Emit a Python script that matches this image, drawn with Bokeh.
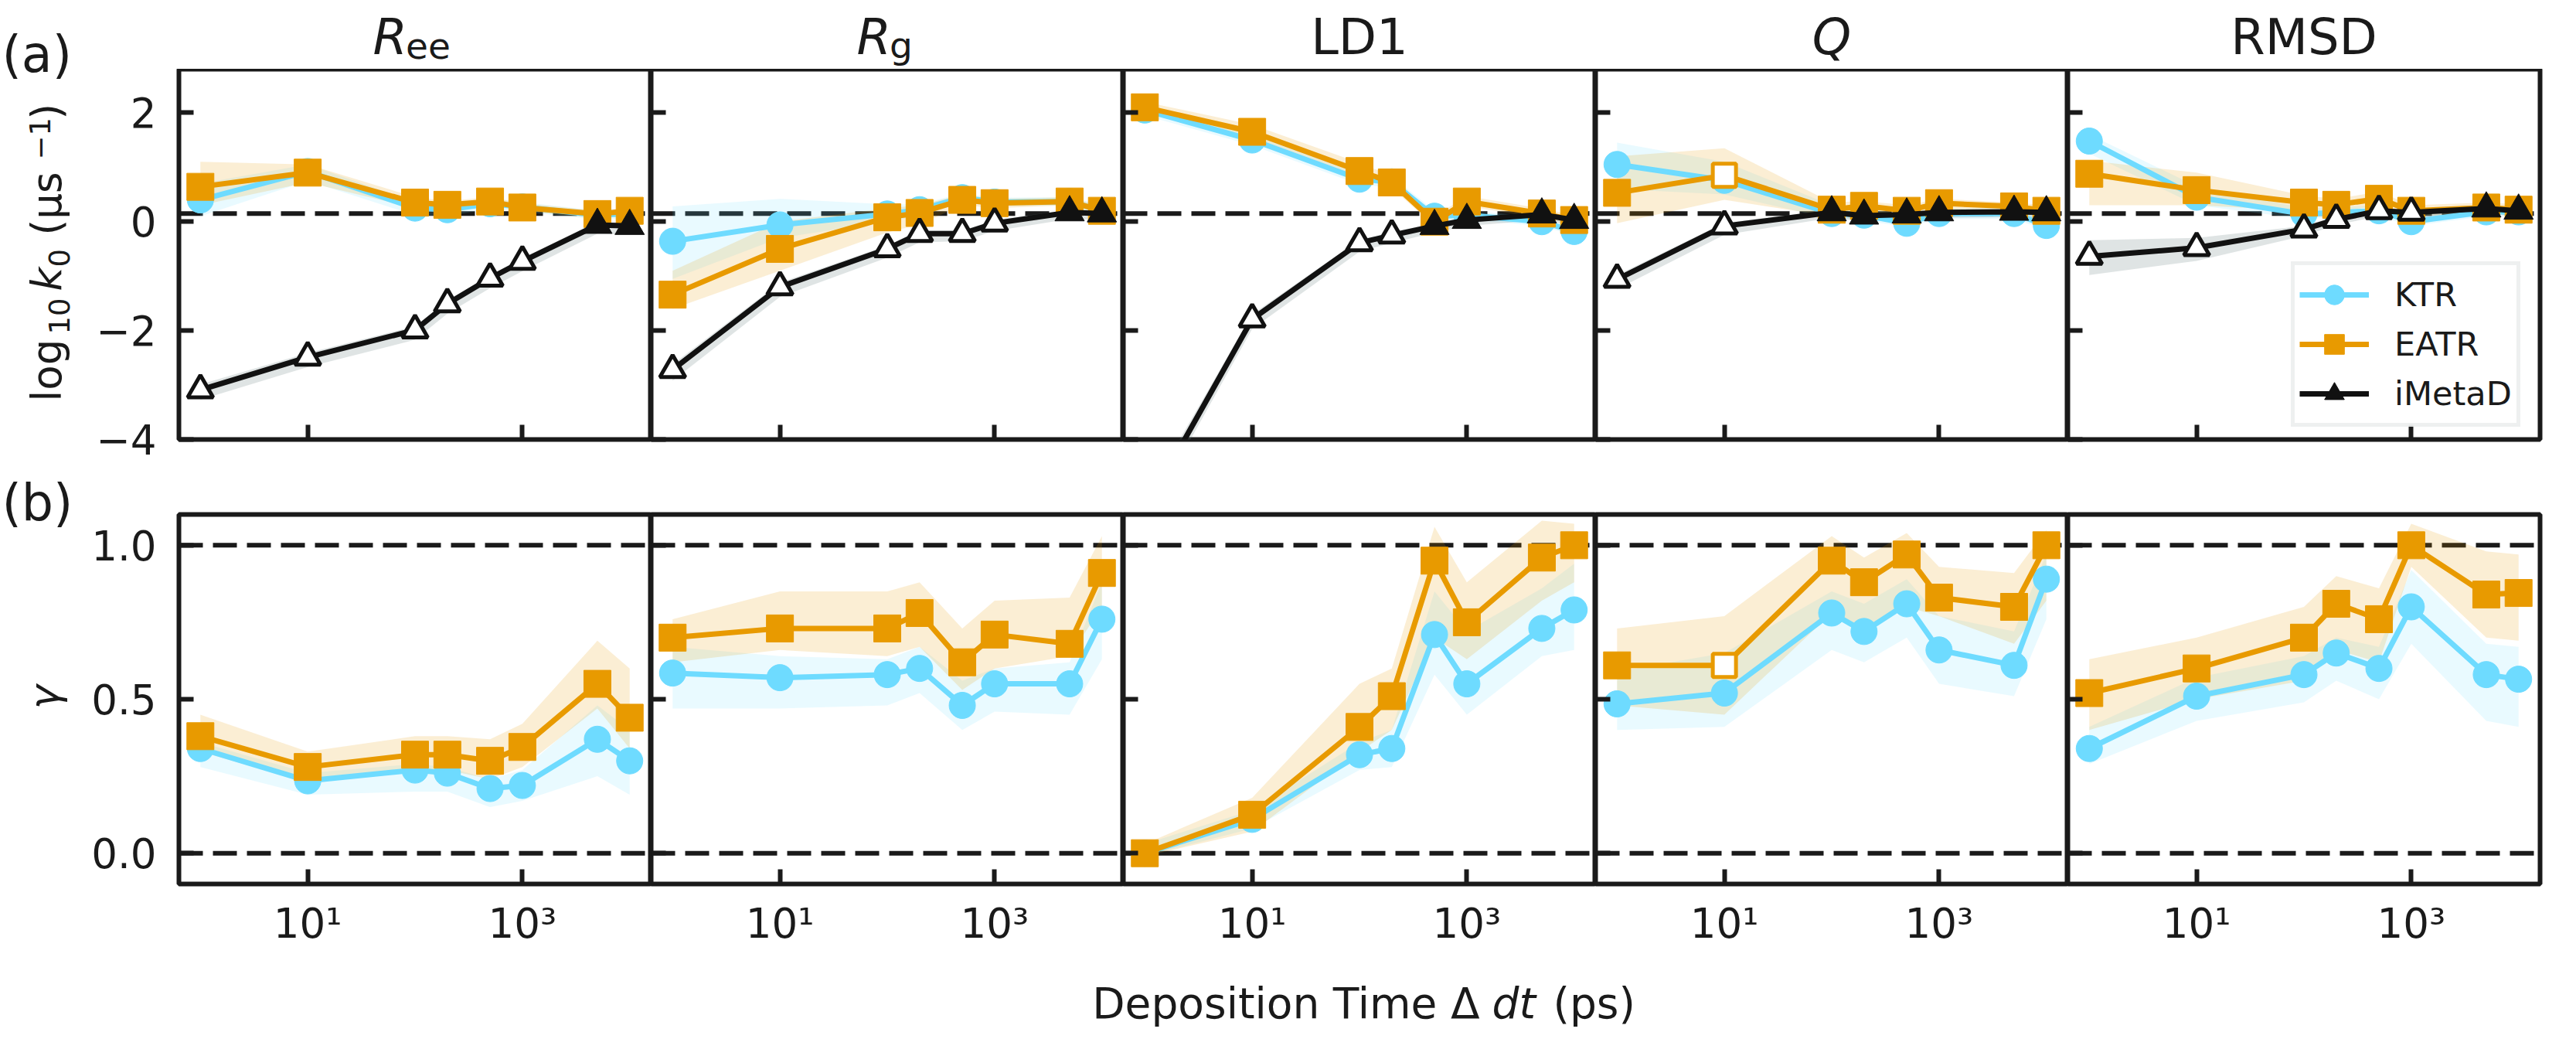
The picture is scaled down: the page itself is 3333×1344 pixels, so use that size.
import math
from bokeh.plotting import figure
from bokeh.layouts import gridplot, row, column
from bokeh.models import (ColumnDataSource, Range1d, Span, Label, FixedTicker,
                          Legend, LegendItem)
from bokeh.embed import file_html
from bokeh.resources import INLINE

# ------------------------------------------------------------------ data
dt_ps = [1, 10, 100, 200, 500, 1000, 5000, 10000]
cv_names = ["Ree", "Rg", "LD1", "Q", "RMSD"]

k0_KTR = {
    "Ree": [0.40, 0.92, 0.25, 0.22, 0.33, 0.27, 0.12, 0.15],
    "Rg": [-0.36, -0.06, 0.14, 0.22, 0.44, 0.36, 0.37, 0.20],
    "LD1": [2.05, 1.50, 0.78, 0.73, 0.10, 0.12, 0.00, -0.18],
    "Q": [1.05, 0.76, 0.15, 0.12, -0.03, 0.15, 0.15, -0.07],
    "RMSD": [1.48, 0.45, 0.14, 0.17, 0.20, 0.00, 0.18, 0.18],
}
k0_KTR_lo = {
    "Ree": [0.10, 0.75, 0.12, 0.10, 0.24, 0.18, 0.04, 0.06],
    "Rg": [-1.05, -0.30, 0.00, 0.10, 0.35, 0.28, 0.30, 0.10],
    "LD1": [1.95, 1.40, 0.68, 0.63, 0.00, 0.04, -0.08, -0.26],
    "Q": [0.60, 0.50, 0.05, 0.02, -0.10, 0.05, 0.05, -0.15],
    "RMSD": [1.25, 0.30, 0.05, 0.08, 0.10, -0.08, 0.10, 0.10],
}
k0_KTR_hi = {
    "Ree": [0.70, 1.05, 0.36, 0.32, 0.42, 0.36, 0.20, 0.24],
    "Rg": [0.28, 0.42, 0.32, 0.32, 0.52, 0.44, 0.45, 0.30],
    "LD1": [2.15, 1.60, 0.88, 0.83, 0.20, 0.20, 0.08, -0.10],
    "Q": [1.45, 1.10, 0.30, 0.25, 0.12, 0.25, 0.25, 0.05],
    "RMSD": [1.60, 0.65, 0.25, 0.27, 0.30, 0.10, 0.27, 0.27],
}
k0_EATR = {
    "Ree": [0.64, 0.90, 0.35, 0.31, 0.37, 0.26, 0.14, 0.20],
    "Rg": [-1.34, -0.50, 0.08, 0.16, 0.40, 0.34, 0.37, 0.20],
    "LD1": [2.10, 1.65, 0.93, 0.72, 0.00, 0.37, 0.15, 0.03],
    "Q": [0.53, 0.85, 0.22, 0.29, 0.20, 0.34, 0.28, 0.20],
    "RMSD": [0.88, 0.58, 0.35, 0.31, 0.42, 0.20, 0.26, 0.22],
}
k0_EATR_lo = {
    "Ree": [0.30, 0.72, 0.25, 0.20, 0.30, 0.20, 0.06, 0.12],
    "Rg": [-1.60, -0.90, -0.20, -0.05, 0.30, 0.25, 0.30, 0.10],
    "LD1": [2.00, 1.55, 0.83, 0.62, -0.08, 0.28, 0.07, -0.05],
    "Q": [-0.03, 0.40, 0.10, 0.15, 0.10, 0.20, 0.15, 0.10],
    "RMSD": [0.30, 0.30, 0.20, 0.20, 0.28, 0.10, 0.15, 0.12],
}
k0_EATR_hi = {
    "Ree": [1.10, 1.05, 0.45, 0.38, 0.45, 0.34, 0.20, 0.27],
    "Rg": [-0.90, 0.00, 0.25, 0.30, 0.50, 0.42, 0.45, 0.28],
    "LD1": [2.20, 1.78, 1.08, 0.84, 0.10, 0.47, 0.24, 0.12],
    "Q": [1.20, 1.35, 0.35, 0.38, 0.30, 0.42, 0.35, 0.30],
    "RMSD": [1.12, 0.90, 0.48, 0.42, 0.55, 0.30, 0.35, 0.32],
}
k0_iMetaD = {
    "Ree": [-3.09, -2.49, -1.99, -1.51, -1.04, -0.73, -0.06, -0.08],
    "Rg": [-2.72, -1.20, -0.50, -0.22, -0.22, -0.03, 0.17, 0.15],
    "LD1": [-5.30, -1.79, -0.39, -0.25, -0.08, 0.03, 0.13, 0.03],
    "Q": [-1.06, -0.08, 0.17, 0.11, 0.13, 0.17, 0.18, 0.17],
    "RMSD": [-0.64, -0.48, -0.14, 0.04, 0.20, 0.17, 0.24, 0.20],
}
k0_iMetaD_lo = {
    "Ree": [-3.27, -2.67, -2.17, -1.69, -1.22, -0.91, -0.22, -0.24],
    "Rg": [-2.92, -1.38, -0.66, -0.38, -0.36, -0.17, 0.05, 0.03],
    "LD1": [-5.50, -1.97, -0.55, -0.39, -0.20, -0.08, 0.03, -0.07],
    "Q": [-1.24, -0.24, 0.07, 0.01, 0.03, 0.07, 0.08, 0.07],
    "RMSD": [-0.98, -0.72, -0.26, -0.06, 0.10, 0.07, 0.14, 0.10],
}
k0_iMetaD_hi = {
    "Ree": [-2.99, -2.41, -1.92, -1.45, -0.98, -0.67, 0.00, -0.02],
    "Rg": [-2.62, -1.12, -0.44, -0.16, -0.16, 0.03, 0.22, 0.20],
    "LD1": [-5.10, -1.70, -0.33, -0.19, -0.03, 0.08, 0.18, 0.08],
    "Q": [-0.98, -0.02, 0.22, 0.16, 0.18, 0.22, 0.23, 0.22],
    "RMSD": [-0.34, -0.30, -0.08, 0.10, 0.25, 0.22, 0.29, 0.25],
}

gamma_KTR = {
    "Ree": [0.34, 0.235, 0.27, 0.26, 0.21, 0.22, 0.37, 0.30],
    "Rg": [0.585, 0.57, 0.58, 0.60, 0.48, 0.55, 0.55, 0.76],
    "LD1": [0.00, 0.11, 0.32, 0.34, 0.71, 0.55, 0.73, 0.79],
    "Q": [0.485, 0.52, 0.78, 0.72, 0.81, 0.66, 0.61, 0.89],
    "RMSD": [0.34, 0.51, 0.58, 0.65, 0.60, 0.80, 0.58, 0.565],
}
gamma_KTR_lo = {
    "Ree": [0.28, 0.19, 0.20, 0.20, 0.15, 0.17, 0.25, 0.19],
    "Rg": [0.47, 0.47, 0.48, 0.52, 0.40, 0.46, 0.45, 0.63],
    "LD1": [-0.01, 0.08, 0.27, 0.28, 0.58, 0.45, 0.64, 0.66],
    "Q": [0.40, 0.41, 0.66, 0.62, 0.70, 0.55, 0.51, 0.76],
    "RMSD": [0.29, 0.43, 0.49, 0.56, 0.50, 0.68, 0.43, 0.41],
}
gamma_KTR_hi = {
    "Ree": [0.36, 0.26, 0.29, 0.28, 0.24, 0.27, 0.48, 0.40],
    "Rg": [0.67, 0.64, 0.63, 0.67, 0.56, 0.60, 0.62, 0.88],
    "LD1": [0.03, 0.14, 0.36, 0.40, 0.85, 0.72, 0.86, 0.94],
    "Q": [0.59, 0.65, 0.85, 0.81, 0.89, 0.77, 0.72, 0.97],
    "RMSD": [0.41, 0.57, 0.64, 0.70, 0.67, 0.92, 0.68, 0.67],
}
gamma_EATR = {
    "Ree": [0.38, 0.28, 0.32, 0.32, 0.30, 0.345, 0.55, 0.44],
    "Rg": [0.70, 0.73, 0.73, 0.78, 0.62, 0.71, 0.68, 0.91],
    "LD1": [0.00, 0.125, 0.41, 0.51, 0.95, 0.75, 0.96, 1.00],
    "Q": [0.61, 0.61, 0.95, 0.88, 0.97, 0.83, 0.80, 1.00],
    "RMSD": [0.52, 0.60, 0.70, 0.81, 0.76, 1.00, 0.84, 0.845],
}
gamma_EATR_lo = {
    "Ree": [0.33, 0.23, 0.27, 0.27, 0.24, 0.28, 0.47, 0.34],
    "Rg": [0.62, 0.66, 0.64, 0.67, 0.53, 0.60, 0.64, 0.80],
    "LD1": [-0.01, 0.07, 0.33, 0.40, 0.70, 0.63, 0.82, 0.88],
    "Q": [0.48, 0.45, 0.78, 0.72, 0.80, 0.77, 0.68, 0.82],
    "RMSD": [0.40, 0.50, 0.56, 0.66, 0.62, 0.93, 0.70, 0.69],
}
gamma_EATR_hi = {
    "Ree": [0.45, 0.33, 0.38, 0.38, 0.37, 0.42, 0.69, 0.60],
    "Rg": [0.76, 0.85, 0.85, 0.88, 0.73, 0.82, 0.83, 1.03],
    "LD1": [0.03, 0.18, 0.55, 0.60, 1.06, 0.88, 1.08, 1.07],
    "Q": [0.73, 0.77, 1.03, 0.96, 1.04, 0.93, 0.91, 1.05],
    "RMSD": [0.63, 0.70, 0.80, 0.90, 0.86, 1.07, 0.98, 0.97],
}

imetad_open_count = {"Ree": 6, "Rg": 6, "LD1": 4, "Q": 2, "RMSD": 6}
eatr_hollow_idx = {"Ree": [], "Rg": [], "LD1": [], "Q": [1], "RMSD": []}

k0_reference = 0.15
gamma_references = [0.0, 1.0]
k0_ticks = [-4, -2, 0, 2]
k0_tick_labels = {-4: "\u22124", -2: "\u22122", 0: "0", 2: "2"}
gamma_ticks = [0.0, 0.5, 1.0]
gamma_tick_labels = {0: "0.0", 0.5: "0.5", 1: "1.0"}
x_ticks = [10, 1000]
x_tick_labels = {10: "10\u00b9", 1000: "10\u00b3"}
series_names = ["KTR", "EATR", "iMetaD"]

# ------------------------------------------------------------------ style
FONT = "DejaVu Sans"
INK = "#1a1a1a"
C_KTR = "#6EDBFF"
C_EATR = "#E89A00"
C_IM = "#111111"
C_IM_BAND = "#6f8585"

X_LO, X_HI = 10 ** -0.2, 10 ** 4.2
K_LO, K_HI = -4.0, 2.8
G_LO, G_HI = -0.1, 1.1

FRAME_W = 611
STRIP_W = 106          # left text strip
LEFT_B = 125           # y-tick-label border of first column
RIGHT_B = 31
TITLE_H = 89
TOP_FH, TOP_BB = 479, 36
BOT_TB, BOT_FH, BOT_BB = 61, 478, 120
TOTAL_H = 1328
XLAB_H = TOTAL_H - TITLE_H - (TOP_FH + TOP_BB) - (BOT_TB + BOT_FH + BOT_BB)
PANELS_W = LEFT_B + 5 * FRAME_W + RIGHT_B


def text_fig(w, h):
    f = figure(frame_width=w, frame_height=h, x_range=Range1d(0, w),
               y_range=Range1d(0, h), min_border_left=0, min_border_right=0,
               min_border_top=0, min_border_bottom=0,
               x_axis_location=None, y_axis_location=None,
               output_backend="svg", toolbar_location=None,
               background_fill_color="white", border_fill_color="white")
    f.outline_line_color = None
    f.xgrid.grid_line_color = None
    f.ygrid.grid_line_color = None
    return f


def lbl(p, x, y, text, size, align="left", style="normal", angle=0.0):
    p.add_layout(Label(x=x, y=y, text=text, text_font=FONT,
                       text_font_size=f"{size}px", text_font_style=style,
                       text_color=INK, text_align=align,
                       text_baseline="alphabetic", angle=angle))


def make_fig(r, col):
    left = LEFT_B if col == 0 else 0
    right = RIGHT_B if col == 4 else 0
    if r == 0:
        top, bottom, fh, yr = 0, TOP_BB, TOP_FH, Range1d(K_LO, K_HI)
    else:
        top, bottom, fh, yr = BOT_TB, BOT_BB, BOT_FH, Range1d(G_LO, G_HI)
    p = figure(x_axis_type="log", x_range=Range1d(X_LO, X_HI), y_range=yr,
               frame_width=FRAME_W, frame_height=fh,
               min_border_left=left, min_border_right=right,
               min_border_top=top, min_border_bottom=bottom,
               output_backend="svg", toolbar_location=None,
               background_fill_color="white", border_fill_color="white")
    p.outline_line_color = INK
    p.outline_line_width = 6
    p.outline_line_alpha = 1.0
    p.grid.visible = False
    for ax in p.axis:
        ax.axis_line_color = None
        ax.major_tick_in = 19
        ax.major_tick_out = 0
        ax.minor_tick_line_color = None
        ax.major_tick_line_width = 6
        ax.major_tick_line_color = INK
        ax.major_label_text_font = FONT
        ax.major_label_text_color = INK
        ax.major_label_text_font_size = "53px"
    p.xaxis.ticker = FixedTicker(ticks=x_ticks)
    p.xaxis.major_label_standoff = 20
    if r == 0:
        p.yaxis.ticker = FixedTicker(ticks=k0_ticks)
        p.yaxis.major_label_overrides = k0_tick_labels
        p.xaxis.major_label_overrides = {t: "" for t in x_ticks}
        p.xaxis.major_label_text_font_size = "1px"
        p.xaxis.major_label_standoff = 0
    else:
        p.yaxis.ticker = FixedTicker(ticks=gamma_ticks)
        p.yaxis.major_label_overrides = gamma_tick_labels
        p.xaxis.major_label_overrides = x_tick_labels
    p.yaxis.major_label_standoff = 29
    if col != 0:
        ticks = k0_ticks if r == 0 else gamma_ticks
        p.yaxis.major_label_overrides = {t: "" for t in ticks}
        p.yaxis.major_label_text_font_size = "1px"
        p.yaxis.major_label_standoff = 0
    return p


def add_band(p, lo, hi, color, alpha):
    band = ColumnDataSource(dict(x=dt_ps, lo=lo, hi=hi))
    p.varea(x="x", y1="lo", y2="hi", source=band, fill_color=color,
            fill_alpha=alpha)


def draw_line_markers(p, y, color, marker, size, hollow_idx, hollow_size):
    ln = p.line(dt_ps, y, line_color=color, line_width=7, line_join="round")
    fx = [x for i, x in enumerate(dt_ps) if i not in hollow_idx]
    fy = [v for i, v in enumerate(y) if i not in hollow_idx]
    sc = p.scatter(fx, fy, marker=marker, size=size, fill_color=color,
                   line_color=color, line_width=1)
    if hollow_idx:
        hx = [dt_ps[i] for i in hollow_idx]
        hy = [y[i] for i in hollow_idx]
        p.scatter(hx, hy, marker=marker, size=hollow_size, fill_color="white",
                  line_color=color, line_width=5)
    return ln, sc


figs_top, figs_bot = [], []
legend_parts = {}

for col, name in enumerate(cv_names):
    # ---------------- top row: log10 k0
    p = make_fig(0, col)
    add_band(p, k0_KTR_lo[name], k0_KTR_hi[name], C_KTR, 0.15)
    add_band(p, k0_EATR_lo[name], k0_EATR_hi[name], C_EATR, 0.17)
    add_band(p, k0_iMetaD_lo[name], k0_iMetaD_hi[name], C_IM_BAND, 0.22)
    p.add_layout(Span(location=k0_reference, dimension="width", line_color=INK,
                      line_width=6, line_dash="31 13", level="underlay"))
    r_ktr = draw_line_markers(p, k0_KTR[name], C_KTR, "circle", 34, [], 30)
    r_eatr = draw_line_markers(p, k0_EATR[name], C_EATR, "square", 35,
                               eatr_hollow_idx[name], 30)
    open_idx = list(range(imetad_open_count[name]))
    r_im = draw_line_markers(p, k0_iMetaD[name], C_IM, "triangle", 38,
                             open_idx, 33)
    if name == "RMSD":
        legend_parts = {"KTR": r_ktr, "EATR": r_eatr, "iMetaD": r_im}
    figs_top.append(p)

    # ---------------- bottom row: gamma
    q = make_fig(1, col)
    add_band(q, gamma_KTR_lo[name], gamma_KTR_hi[name], C_KTR, 0.15)
    add_band(q, gamma_EATR_lo[name], gamma_EATR_hi[name], C_EATR, 0.17)
    for ref in gamma_references:
        q.add_layout(Span(location=ref, dimension="width", line_color=INK,
                          line_width=6, line_dash="31 13", level="underlay"))
    draw_line_markers(q, gamma_KTR[name], C_KTR, "circle", 34, [], 30)
    draw_line_markers(q, gamma_EATR[name], C_EATR, "square", 35,
                      eatr_hollow_idx[name], 30)
    figs_bot.append(q)

# ---------------- legend
items = [LegendItem(label=s, renderers=list(legend_parts[s])) for s in series_names]
leg = Legend(items=items, location=(289, 16), label_text_font=FONT,
             label_text_font_size="43px", label_text_color=INK,
             glyph_width=90, glyph_height=64, label_height=64, label_standoff=33,
             spacing=0, padding=6, margin=0,
             border_line_color="#dde1e2", border_line_width=5,
             background_fill_color="white", background_fill_alpha=0.85)
figs_top[4].add_layout(leg)

# ---------------- title strip (panel titles)
title_fig = text_fig(PANELS_W, TITLE_H)
TB = 42  # baseline height inside strip
for col, name in enumerate(cv_names):
    c = LEFT_B + col * FRAME_W + FRAME_W / 2
    if name == "Ree":
        lbl(title_fig, c - 10, TB, "R", 64, align="right", style="italic")
        lbl(title_fig, c - 12, TB - 11, "ee", 47)
    elif name == "Rg":
        lbl(title_fig, c + 5, TB, "R", 64, align="right", style="italic")
        lbl(title_fig, c + 3, TB - 11, "g", 47)
    elif name == "Q":
        lbl(title_fig, c, TB, "Q", 64, align="center", style="italic")
    else:
        lbl(title_fig, c, TB, name, 64, align="center")

# ---------------- left strip: panel letters and y labels
strip = text_fig(STRIP_W, TOTAL_H)
R90 = math.pi / 2
H = TOTAL_H
YB = 60   # baseline column of the rotated y labels
lbl(strip, 2, H - 70, "(a)", 65)
lbl(strip, 2, H - 650, "(b)", 65)
lbl(strip, YB, H - 519, "log", 53, angle=R90)
lbl(strip, YB + 16, H - 432, "10", 37, angle=R90)
lbl(strip, YB, H - 376, "k", 53, angle=R90, style="italic")
lbl(strip, YB + 16, H - 345, "0", 37, angle=R90)
lbl(strip, YB, H - 304, "(\u03bcs", 53, angle=R90)
lbl(strip, YB - 9, H - 206, "\u22121", 37, angle=R90)
lbl(strip, YB, H - 154, ")", 53, angle=R90)
lbl(strip, YB - 3, H - 917, "\u03b3", 53, angle=R90, style="italic")

# ---------------- x label strip
xlab = text_fig(PANELS_W, XLAB_H)
XB = 31
xl_c = 1914 - STRIP_W
lbl(xlab, xl_c, XB, "Deposition Time \u0394", 55, align="right")
lbl(xlab, xl_c + 16, XB, "dt", 55, style="italic")
lbl(xlab, xl_c + 95, XB, "(ps)", 55)

grid = gridplot([figs_top, figs_bot], toolbar_location=None)
layout = row(strip, column(title_fig, grid, xlab))

open("out.html", "w").write(file_html(layout, INLINE))
